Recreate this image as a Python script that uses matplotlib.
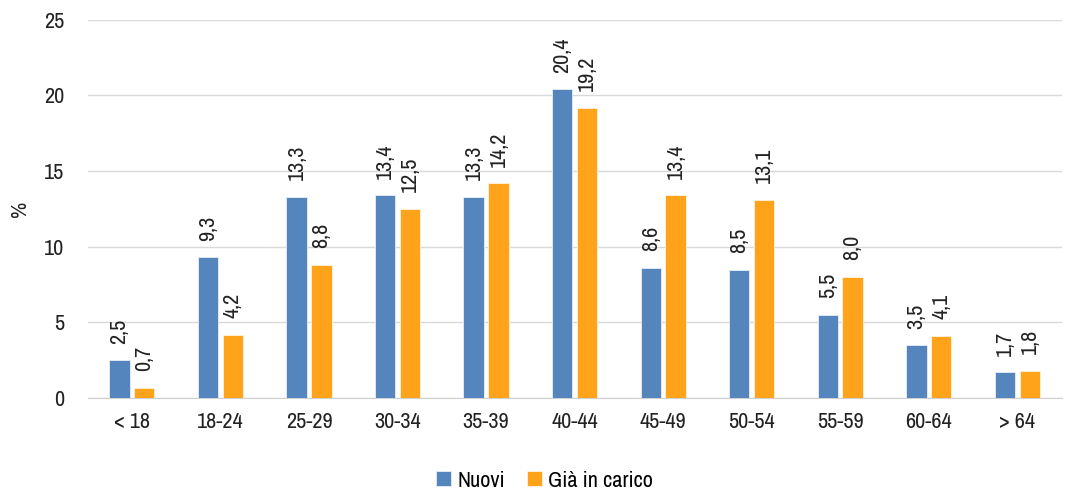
import matplotlib
matplotlib.use("Agg")
import matplotlib.pyplot as plt
from matplotlib import font_manager
import numpy as np

categories = ["< 18", "18-24", "25-29", "30-34", "35-39", "40-44", "45-49", "50-54", "55-59", "60-64", "> 64"]
nuovi = [2.5, 9.3, 13.3, 13.4, 13.3, 20.4, 8.6, 8.5, 5.5, 3.5, 1.7]
gia_in_carico = [0.7, 4.2, 8.8, 12.5, 14.2, 19.2, 13.4, 13.1, 8.0, 4.1, 1.8]

names = {f.name for f in font_manager.fontManager.ttflist}
candidates = ["Liberation Sans Narrow", "Archivo Narrow", "PT Sans Narrow", "Roboto Condensed",
              "Arimo Narrow", "Fira Sans Condensed", "IBM Plex Sans Condensed", "Sofia Sans Condensed",
              "Encode Sans Condensed", "Barlow Semi Condensed", "Open Sans Condensed", "Liberation Sans"]
fam = next(c for c in candidates if c in names)
plt.rcParams['font.family'] = [fam, 'DejaVu Sans']

fig = plt.figure(figsize=(10.68, 4.94), dpi=100)
ax = fig.add_axes([0.082, 0.194, 0.912, 0.766])

x = np.arange(len(categories))
w = 0.23
off = 0.14
c1 = "#5585BD"
c2 = "#FFA31B"
b1 = ax.bar(x - off, nuovi, w, color=c1, label="Nuovi", zorder=3,
            edgecolor="#e8eef6", linewidth=0.6)
b2 = ax.bar(x + off, gia_in_carico, w, color=c2, label="Già in carico", zorder=3,
            edgecolor="#fff3e0", linewidth=0.6)

def fmt(v):
    return f"{v:.1f}".replace(".", ",")

for bars, vals in ((b1, nuovi), (b2, gia_in_carico)):
    for r, v in zip(bars, vals):
        ax.annotate(fmt(v), (r.get_x() + r.get_width() / 2, v), xytext=(0, 12),
                    textcoords="offset points", rotation=90, ha="center", va="bottom",
                    fontsize=16, color="#222222", annotation_clip=False)

ax.set_ylim(0, 25)
ax.set_xlim(-0.5, len(categories) - 0.5)
ax.set_yticks(range(0, 26, 5))
ax.set_xticks(x)
ax.set_xticklabels(categories)
ax.tick_params(axis="both", length=0, labelsize=16, colors="#222222")
ax.tick_params(axis="x", pad=10)
ax.tick_params(axis="y", pad=17)
ax.grid(axis="y", color="#d9d9d9", linewidth=1, zorder=0)
for s in ("top", "right", "left"):
    ax.spines[s].set_visible(False)
ax.spines["bottom"].set_color("#d0d0d0")
ax.set_ylabel("%", fontsize=16, color="#222222")
ax.yaxis.set_label_coords(-0.0595, 0.5)

fig.legend(handles=[b1, b2], loc="center", bbox_to_anchor=(0.51, 0.027), ncol=2,
           frameon=False, fontsize=16, handlelength=0.65, handleheight=0.65,
           columnspacing=1.0, handletextpad=0.3)

fig.savefig("out.png", dpi=100)
